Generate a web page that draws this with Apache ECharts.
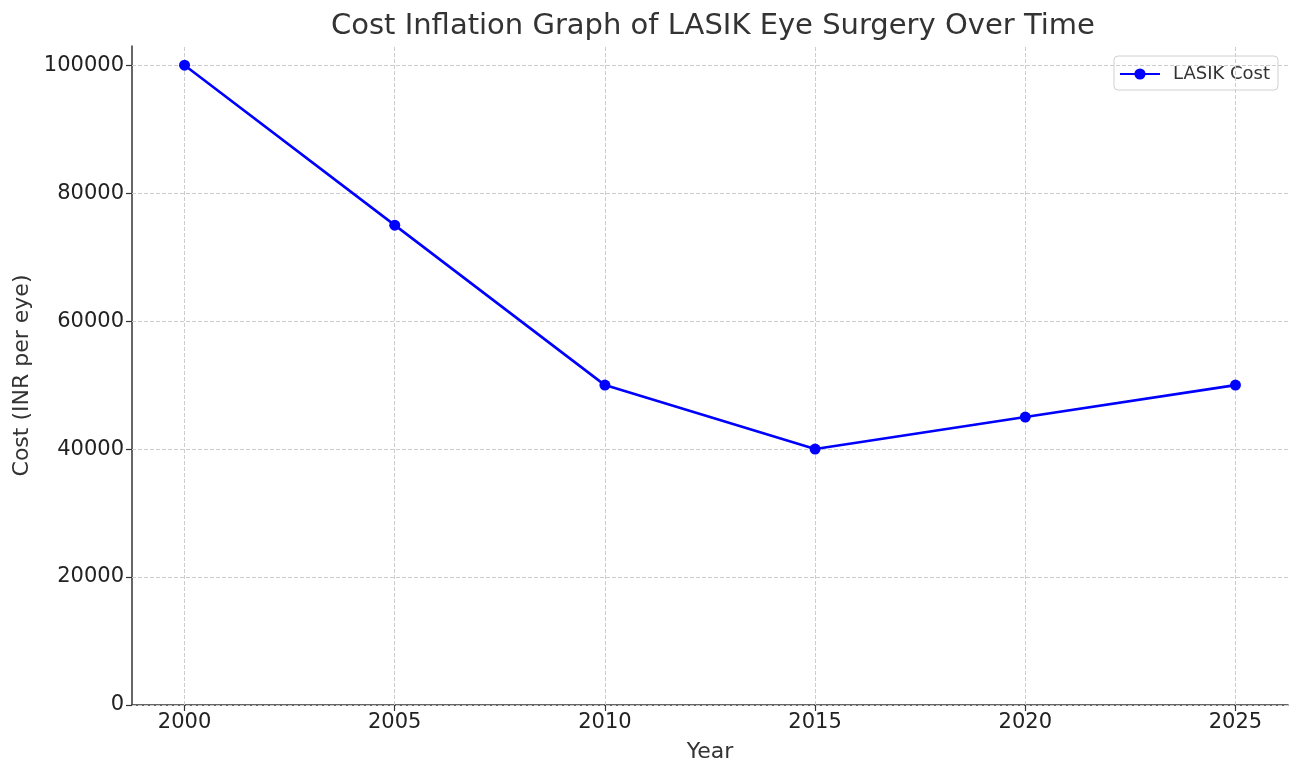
<!DOCTYPE html>
<html>
<head>
<meta charset="utf-8">
<script src="https://cdn.jsdelivr.net/npm/echarts@6/dist/echarts.min.js"></script>
<style>html,body{margin:0;padding:0;background:#fff}#c{width:1300px;height:775px}</style>
</head>
<body>
<div id="c"></div>
<script>
const years = [2000, 2005, 2010, 2015, 2020, 2025];
const costs = [100000, 75000, 50000, 40000, 45000, 50000];
const yTicks = [0, 20000, 40000, 60000, 80000, 100000];
const seriesName = 'LASIK Cost';

const font = 'DejaVu Sans';
const grid = { type: 'dashed', color: '#cccccc', width: 1 };
const chart = echarts.init(document.getElementById('c'));
const markData = years.map(v => ({ xAxis: v })).concat(yTicks.map(v => ({ yAxis: v })));

chart.setOption({
  animation: false,
  textStyle: { fontFamily: font },
  title: {
    text: 'Cost Inflation Graph of LASIK Eye Surgery Over Time',
    left: 326, top: 7,
    textStyle: { fontFamily: font, fontSize: 29, fontWeight: 'normal', color: '#333' }
  },
  grid: { left: 132, right: 12, top: 46, bottom: 70, containLabel: false, outerBoundsMode: 'none' },
  legend: {
    data: [seriesName], right: 22, top: 56,
    orient: 'vertical',
    itemWidth: 40, itemHeight: 14, itemGap: 8,
    padding: [9, 8, 7, 5],
    borderColor: '#d0d0d0', borderWidth: 1, borderRadius: 4,
    textStyle: { fontFamily: font, fontSize: 18, color: '#333', padding: [0, 0, 0, 8] }
  },
  xAxis: {
    type: 'value', min: 1998.75, max: 2026.25,
    name: 'Year', nameLocation: 'middle', nameGap: 36,
    nameTextStyle: { fontFamily: font, fontSize: 22, color: '#333' },
    axisLine: { show: true, onZero: false, lineStyle: { color: '#333', width: 1.5 } },
    axisTick: { show: true, customValues: years, length: 6, lineStyle: { color: '#333', width: 1.2 } },
    axisLabel: { customValues: years, formatter: v => String(v), fontFamily: font, fontSize: 21, color: '#222', margin: 7 },
    splitLine: { show: false }
  },
  yAxis: {
    type: 'value', min: 0, max: 103000,
    name: 'Cost (INR per eye)', nameLocation: 'middle', nameGap: 98,
    nameTextStyle: { fontFamily: font, fontSize: 22, color: '#333' },
    axisLine: { show: true, lineStyle: { color: '#333', width: 1.5 } },
    axisTick: { show: true, customValues: yTicks, length: 6, lineStyle: { color: '#333', width: 1.2 } },
    axisLabel: { customValues: yTicks, formatter: v => String(v), fontFamily: font, fontSize: 21, color: '#222', margin: 8, padding: [4, 0, 0, 0] },
    splitLine: { show: false }
  },
  series: [{
    name: 'grid',
    type: 'line',
    data: [],
    z: 1,
    silent: true,
    markLine: {
      silent: true, symbol: 'none', label: { show: false },
      lineStyle: grid, animation: false,
      emphasis: { disabled: true },
      data: markData
    }
  }, {
    name: seriesName,
    type: 'line',
    data: years.map((y, i) => [y, costs[i]]),
    symbol: 'circle', symbolSize: 11,
    itemStyle: { color: '#0000ff', borderWidth: 0 },
    lineStyle: { color: '#0000ff', width: 2.6 },
    z: 5
  }]
});
</script>
</body>
</html>
